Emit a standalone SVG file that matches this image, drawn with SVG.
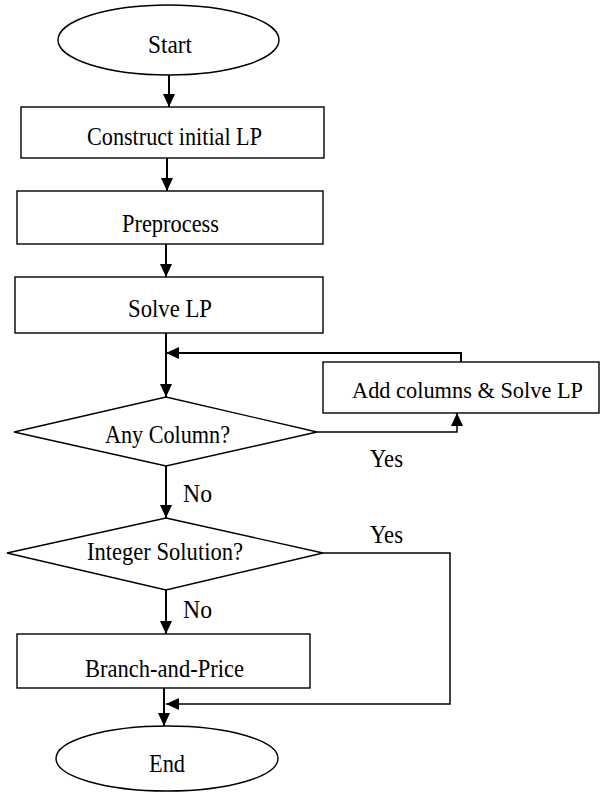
<svg xmlns="http://www.w3.org/2000/svg" width="600" height="794" viewBox="0 0 600 794">
<style>
.shape{fill:#fff;stroke:#000;stroke-width:1.4}
.lbl{font-family:"Liberation Serif","Times New Roman",serif;font-size:24.5px;fill:#000;text-anchor:middle}
.tag{font-family:"Liberation Serif","Times New Roman",serif;font-size:24.5px;fill:#000}
.con{fill:none;stroke:#000;stroke-width:2}
.thin{fill:none;stroke:#000;stroke-width:1.5}
</style>
<defs>
<marker id="ah" markerUnits="userSpaceOnUse" markerWidth="13" markerHeight="12" viewBox="0 0 13 12" refX="13" refY="6" orient="auto">
<path d="M0,0 L13,6 L0,12 Z" fill="#000"/>
</marker>
</defs>
<rect width="600" height="794" fill="#fff"/>
<g id="connectors">
<line class="con" x1="169" y1="75" x2="169" y2="107" marker-end="url(#ah)"/>
<line class="con" x1="167" y1="158" x2="167" y2="191" marker-end="url(#ah)"/>
<line class="con" x1="166" y1="244" x2="166" y2="277" marker-end="url(#ah)"/>
<line class="con" x1="166" y1="333" x2="166" y2="397" marker-end="url(#ah)"/>
<polyline class="con" points="461,362 461,353 166,353" marker-end="url(#ah)"/>
<polyline class="thin" points="317,432 457,432 457,413" marker-end="url(#ah)"/>
<line class="con" x1="166" y1="466" x2="166" y2="518" marker-end="url(#ah)"/>
<line class="con" x1="166" y1="590" x2="166" y2="634" marker-end="url(#ah)"/>
<polyline class="thin" points="323,553 450,553 450,704 166,704" marker-end="url(#ah)"/>
<line class="con" x1="164" y1="688" x2="164" y2="726" marker-end="url(#ah)"/>
<text class="tag" x="370" y="467" textLength="33" lengthAdjust="spacingAndGlyphs">Yes</text>
<text class="tag" x="183" y="502" textLength="29" lengthAdjust="spacingAndGlyphs">No</text>
<text class="tag" x="370" y="543" textLength="33" lengthAdjust="spacingAndGlyphs">Yes</text>
<text class="tag" x="183" y="618" textLength="29" lengthAdjust="spacingAndGlyphs">No</text>
</g>
<g id="start">
<ellipse class="shape" cx="168.5" cy="40" rx="110.5" ry="35"/>
<text class="lbl" x="170" y="53" textLength="44" lengthAdjust="spacingAndGlyphs">Start</text>
</g>
<g id="construct">
<rect class="shape" x="21" y="107" width="303" height="51"/>
<text class="lbl" x="174.5" y="145" textLength="175" lengthAdjust="spacingAndGlyphs">Construct initial LP</text>
</g>
<g id="preprocess">
<rect class="shape" x="17" y="191" width="306" height="53"/>
<text class="lbl" x="170.5" y="232" textLength="97" lengthAdjust="spacingAndGlyphs">Preprocess</text>
</g>
<g id="solve">
<rect class="shape" x="15" y="277" width="308" height="56"/>
<text class="lbl" x="170" y="317" textLength="84" lengthAdjust="spacingAndGlyphs">Solve LP</text>
</g>
<g id="addcols">
<rect class="shape" x="323" y="362" width="276" height="51"/>
<text class="lbl" x="467.5" y="398" style="font-size:22.5px" textLength="231" lengthAdjust="spacingAndGlyphs">Add columns &amp; Solve LP</text>
</g>
<g id="anycolumn">
<polygon class="shape" points="166,397 317,432 166,466 14,432"/>
<text class="lbl" x="167.5" y="443" textLength="125" lengthAdjust="spacingAndGlyphs">Any Column?</text>
</g>
<g id="integer">
<polygon class="shape" points="166,518 323,553 166,590 7,553"/>
<text class="lbl" x="165" y="560" textLength="156" lengthAdjust="spacingAndGlyphs">Integer Solution?</text>
</g>
<g id="branch">
<rect class="shape" x="17" y="634" width="293" height="54"/>
<text class="lbl" x="164.5" y="677" textLength="159" lengthAdjust="spacingAndGlyphs">Branch-and-Price</text>
</g>
<g id="end">
<ellipse class="shape" cx="167" cy="758.5" rx="111" ry="32.5"/>
<text class="lbl" x="167" y="772" textLength="36" lengthAdjust="spacingAndGlyphs">End</text>
</g>
</svg>
